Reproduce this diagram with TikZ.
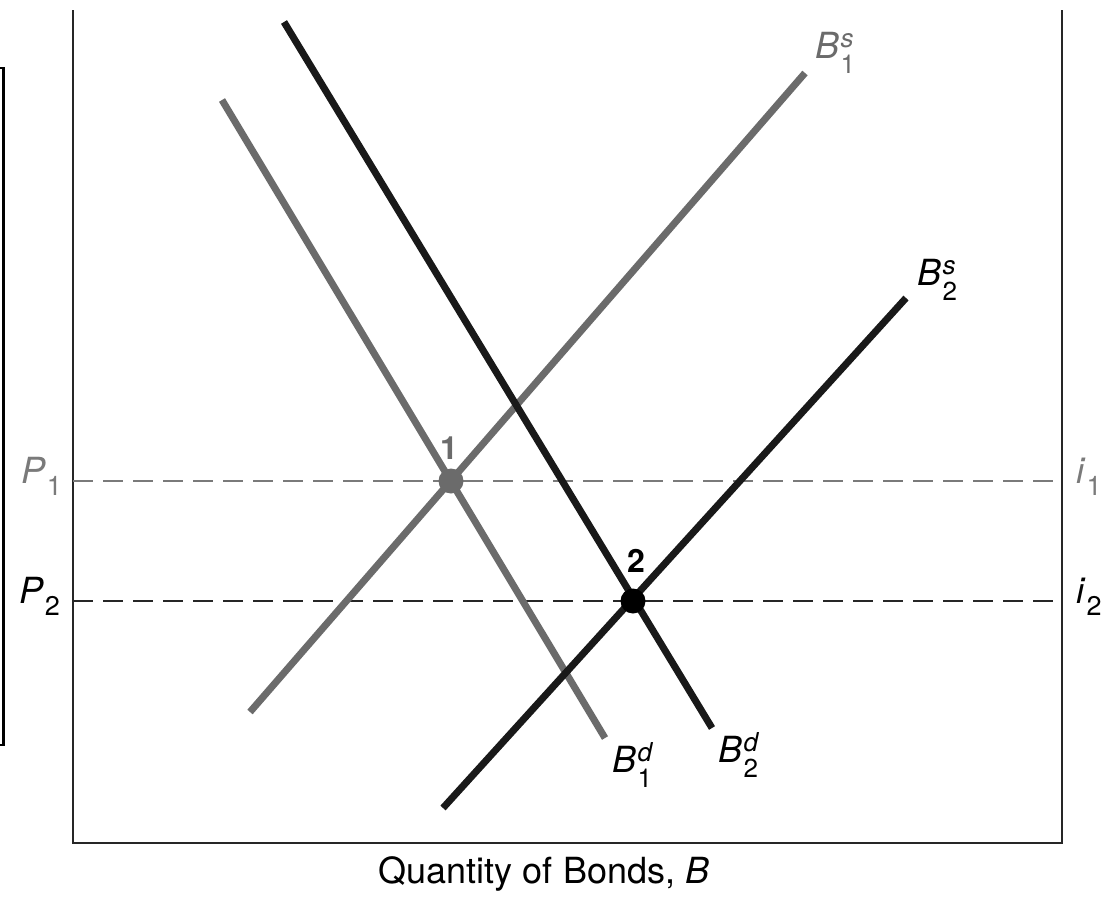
\documentclass[tikz,border=0pt]{standalone}
\usepackage{fontspec}
\setmainfont{TeX Gyre Heros}
\definecolor{curvegray}{HTML}{6B6B6B}
\definecolor{dashgray}{HTML}{7A7A7A}
\newcommand{\curvelab}[3]{\textit{#1}\kern1.5pt\rlap{\raisebox{11pt}{\fontsize{26}{26}\selectfont\textit{#2}}}\raisebox{-15pt}{\fontsize{26}{26}\selectfont #3}}
\newcommand{\sublab}[2]{\textit{#1}\kern1pt\raisebox{-12pt}{\fontsize{27}{27}\selectfont #2}}
\begin{document}
\begin{tikzpicture}[x=1pt,y=-1pt,
  axis/.style={line width=2.4pt,black!85},
  curve/.style={line width=7pt},
  guide/.style={line width=2.2pt,dash pattern=on 20pt off 10pt},
  lbl/.style={font=\fontsize{36}{42}\selectfont,inner sep=0pt},
  ptlbl/.style={font=\fontsize{32}{38}\selectfont\bfseries,inner sep=0pt},
  eqdot/.style={circle,minimum size=25pt,inner sep=0pt}]
\useasboundingbox (0,0) rectangle (1104,902);
\fill[white] (0,0) rectangle (1104,902);
% partial frame at left edge
\draw[line width=2.2pt] (-10,68) -- (3.5,68) -- (3.5,745) -- (-10,745);
% axes
\coordinate (tl) at (73,10);
\coordinate (bl) at (73,843);
\coordinate (br) at (1062,843);
\coordinate (tr) at (1062,10);
\draw[axis] (tl) -- (bl) -- (br) -- (tr);
% guide lines
\coordinate (p1l) at (73,481);
\coordinate (p1r) at (1062,481);
\coordinate (p2l) at (73,601);
\coordinate (p2r) at (1062,601);
\draw[guide,dashgray] (p1l) -- (p1r);
\draw[guide,black!85] (p2l) -- (p2r);
% curves
\coordinate (s1a) at (250,712); \coordinate (s1b) at (805,73);
\coordinate (d1a) at (222,100); \coordinate (d1b) at (605,738);
\coordinate (d2a) at (284,22);  \coordinate (d2b) at (712,728);
\coordinate (s2a) at (443,808); \coordinate (s2b) at (906,298);
\draw[curve,curvegray] (s1a) -- (s1b);
\draw[curve,curvegray] (d1a) -- (d1b);
\draw[curve,black!90] (d2a) -- (d2b);
\draw[curve,black!90] (s2a) -- (s2b);
% equilibrium points
\node[eqdot,fill=curvegray] (e1) at (451,481) {};
\node[eqdot,fill=black] (e2) at (633,601) {};
\node[ptlbl,text=curvegray] (n1) at (449,448) {1};
\node[ptlbl,text=black] (n2) at (636,561) {2};
% curve labels
\node[lbl,text=curvegray,anchor=base west] (ls1) at (815,58) {\curvelab{B}{s}{1}};
\node[lbl,text=black,anchor=base west] (ls2) at (917,285) {\curvelab{B}{s}{2}};
\node[lbl,text=black,anchor=base west] (ld1) at (612,772) {\curvelab{B}{d}{1}};
\node[lbl,text=black,anchor=base west] (ld2) at (718,762) {\curvelab{B}{d}{2}};
% axis labels
\node[lbl,text=dashgray,anchor=base west] (lp1) at (21,483) {\sublab{P}{1}};
\node[lbl,text=black,anchor=base west] (lp2) at (19,603) {\sublab{P}{2}};
\node[lbl,text=dashgray,anchor=base west] (li1) at (1076,483) {\sublab{i}{1}};
\node[lbl,text=black,anchor=base west] (li2) at (1076,603) {\sublab{i}{2}};
\node[lbl,text=black] (xl) at (544,874) {Quantity of Bonds, \textit{B}};
\end{tikzpicture}
\end{document}
